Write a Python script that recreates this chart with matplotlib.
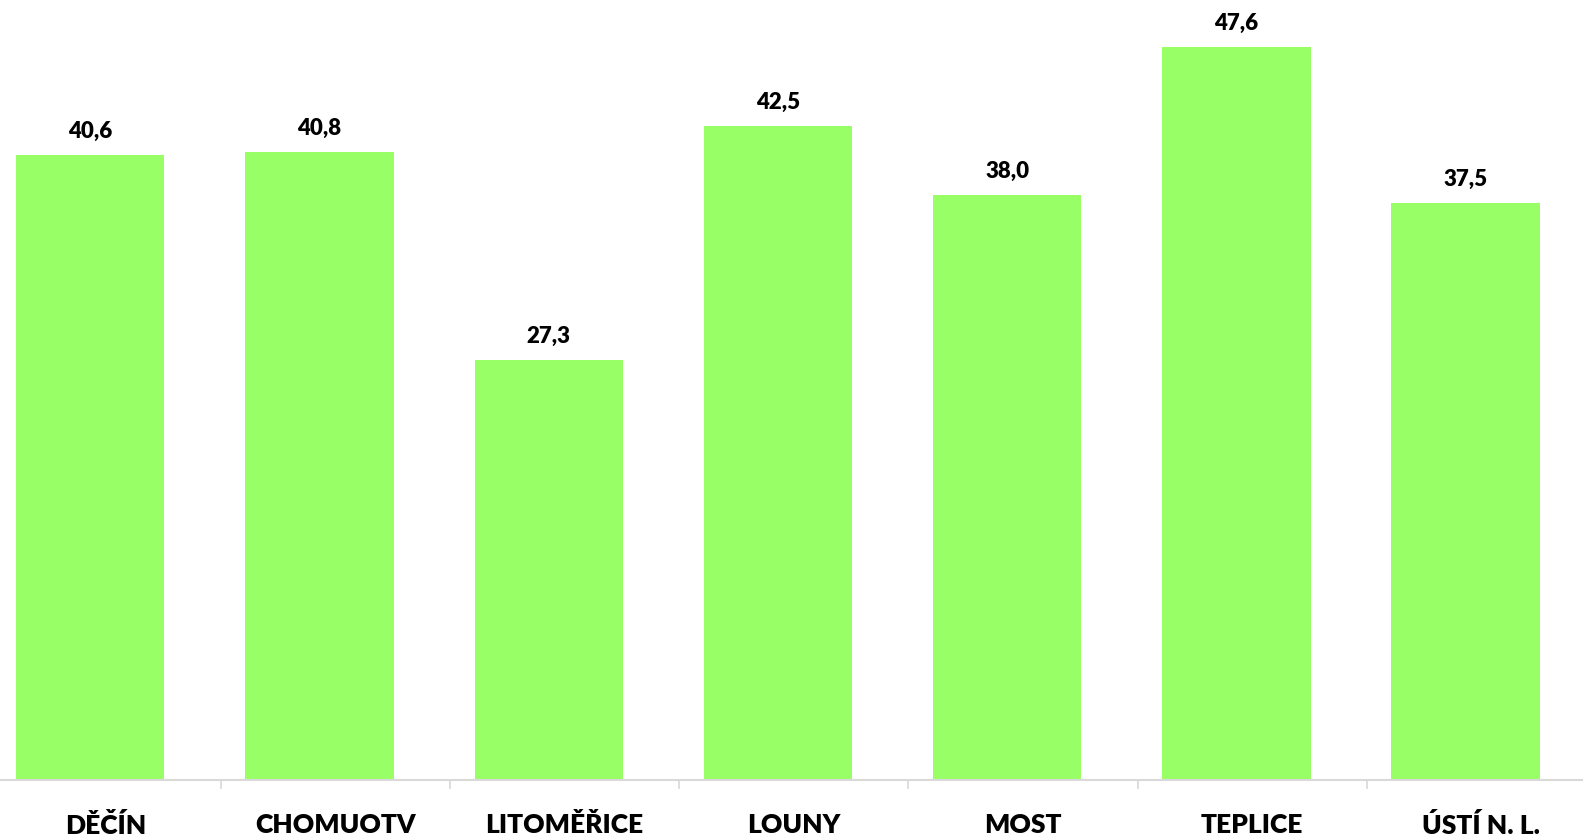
#! /usr/bin/env python3
# -*- coding: utf-8 -*-
"""
Bar chart of values per district.
"""

import matplotlib

matplotlib.use("Agg")
import matplotlib.pyplot as plt
from matplotlib.ticker import FixedLocator

districts = ["DĚČÍN", "CHOMUOTV", "LITOMĚŘICE", "LOUNY", "MOST", "TEPLICE", "ÚSTÍ N. L."]
values = [40.6, 40.8, 27.3, 42.5, 38.0, 47.6, 37.5]

BAR_COLOR = "#99FF66"
AXIS_COLOR = "#D9D9D9"
# in the source the bars sit a little left of their category slot
SLOT_SHIFT = 0.069

plt.rcParams["font.family"] = ["Lato", "DejaVu Sans"]

fig = plt.figure(figsize=(15.83, 8.38), dpi=100)
ax = fig.add_axes([0, 58 / 838, 1, 780 / 838])

x = list(range(len(districts)))
bars = ax.bar(x, values, width=0.647, color=BAR_COLOR, zorder=2)

# value labels above the bars, decimal comma
for xi, v in zip(x, values):
    ax.annotate(
        f"{v:.1f}".replace(".", ","),
        (xi, v),
        xytext=(0, 12),
        textcoords="offset points",
        ha="center",
        va="baseline",
        fontsize=16,
        fontweight="heavy",
        color="black",
    )

ax.set_xlim(-0.394, 6.512)
ax.set_ylim(0, 50.65)

for side in ("left", "right", "top"):
    ax.spines[side].set_visible(False)
ax.spines["bottom"].set_color(AXIS_COLOR)
ax.spines["bottom"].set_linewidth(1.5)

ax.set_yticks([])
ax.set_xticks([k + SLOT_SHIFT for k in x])
ax.set_xticklabels(districts, fontsize=19, fontweight="heavy")
ax.tick_params(axis="x", which="major", length=0, pad=23.5)

# separators between the category slots
ax.xaxis.set_minor_locator(
    FixedLocator([k + 0.5 + SLOT_SHIFT for k in range(-1, len(districts))])
)
ax.tick_params(axis="x", which="minor", length=6.5, width=1.2, color=AXIS_COLOR)

fig.savefig("out.png", dpi=100, facecolor="white")
